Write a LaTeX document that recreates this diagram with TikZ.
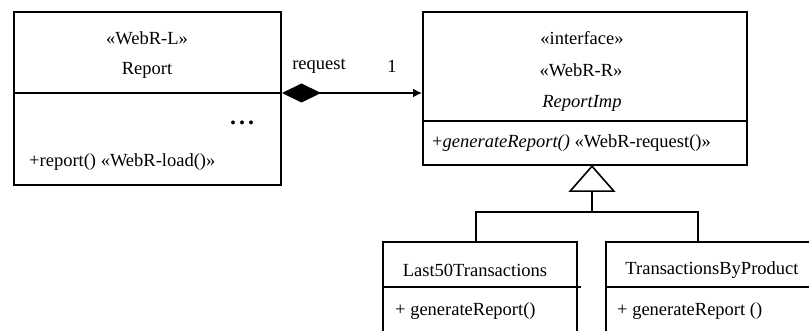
\documentclass[tikz,border=0pt]{standalone}
\usepackage{fontspec}
\setmainfont{Liberation Serif}
\usetikzlibrary{arrows.meta}

\tikzset{
  umlbox/.style={draw, line width=2pt, inner sep=0pt, anchor=north west},
  txt/.style={inner sep=0pt, font=\fontsize{18.5}{22}\selectfont},
  assoc/.style={line width=1.6pt, {Diamond[length=39pt,width=19pt]}-{Latex[length=9pt,width=9pt]}},
  gen/.style={line width=1.6pt, -{Triangle[open,fill=white,length=27pt,width=47pt]}}
}

\begin{document}
\begin{tikzpicture}[x=1pt, y=-1pt]
\useasboundingbox (0,0) rectangle (809,331);

% Classes
\node[umlbox, minimum width=267pt, minimum height=173pt] (report) at (13,11) {};
\node[umlbox, minimum width=324pt, minimum height=153pt] (imp) at (422,11) {};
\node[umlbox, minimum width=194pt, minimum height=120pt] (last50) at (382,241) {};
\node[umlbox, minimum width=230pt, minimum height=120pt] (byprod) at (605,241) {};

% Separateurs
\coordinate (repdiv) at (0,93);
\coordinate (impdiv) at (0,121);
\coordinate (subdiv) at (0,287);
\draw[line width=2pt] (report.west |- repdiv) -- (report.east |- repdiv);
\draw[line width=2pt] (imp.west |- impdiv) -- (imp.east |- impdiv);
\draw[line width=2pt] (last50.west |- subdiv) -- ([xshift=3pt]last50.east |- subdiv);
\draw[line width=2pt] (byprod.west |- subdiv) -- (byprod.east |- subdiv);

% Textes
\node[txt] (stl) at (147,38) {«WebR-L»};
\node[txt] (repname) at (147,70) {Report};
\node[txt, font=\fontsize{24}{24}\selectfont\bfseries] (dots) at (242,123) {.\kern3pt.\kern3pt.};
\node[txt, anchor=west] (repop) at (29,162) {+report() «WebR-load()»};

\node[txt] (iface) at (582,38) {«interface»};
\node[txt] (str) at (581,70) {«WebR-R»};
\node[txt] (impname) at (582,103) {\itshape ReportImp};
\node[txt, anchor=west] (impop) at (432,143) {+\textit{generateReport()} «WebR-request()»};

\node[txt] (l50name) at (475,270) {Last50Transactions};
\node[txt, anchor=west] (l50op) at (395,311) {+ generateReport()};
\node[txt] (tbpname) at (712,270) {TransactionsByProduct};
\node[txt, anchor=west] (tbpop) at (617,311) {+ generateReport ()};

% Association
\draw[assoc] (report.east |- repdiv) -- (imp.west |- repdiv);
\node[txt] (rolename) at (319,66) {request};
\node[txt] (mult) at (392,66) {1};

% Generalisation
\coordinate (apex) at (592,165);
\coordinate (join) at (592,212);
\coordinate (l50in) at (476,241);
\coordinate (tbpin) at (698,241);
\draw[gen] (join) -- (apex);
\draw[line width=1.6pt] (l50in) |- (join) -| (tbpin);

\end{tikzpicture}
\end{document}
